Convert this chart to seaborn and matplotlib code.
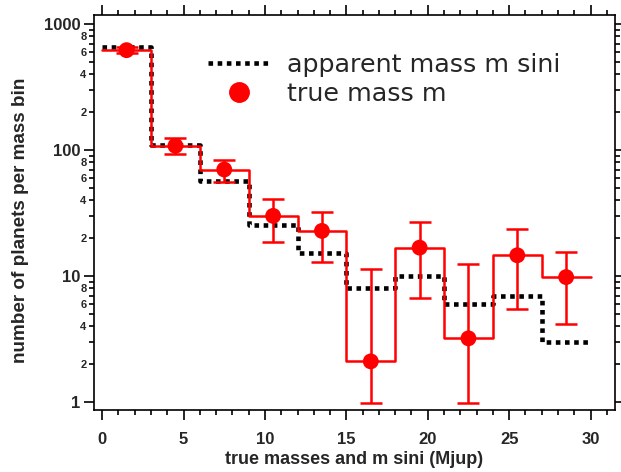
import numpy as np
import pandas as pd
import matplotlib
matplotlib.use("Agg")
import matplotlib.pyplot as plt
from matplotlib.lines import Line2D
from matplotlib.ticker import MultipleLocator, FixedLocator, FixedFormatter
import seaborn as sns

# mass bins (Mjup), 3 Mjup wide
bin_edges = [0, 3, 6, 9, 12, 15, 18, 21, 24, 27, 30]
bin_centers = [1.5, 4.5, 7.5, 10.5, 13.5, 16.5, 19.5, 22.5, 25.5, 28.5]

# apparent mass m sini histogram
msini_counts = [660, 110, 57, 25.4, 15.3, 8.1, 10, 6.0, 7.0, 3.0]
# true mass histogram with error bars
true_counts = [620, 108, 70, 30, 22.8, 2.1, 16.8, 3.2, 14.6, 9.8]
true_upper = [660, 124, 84, 40.8, 32.4, 11.3, 26.7, 12.4, 23.7, 15.6]
true_lower = [585, 92.5, 56, 18.5, 12.8, 0.98, 6.7, 0.98, 5.5, 4.16]

sns.set_style("ticks")
plt.rcParams["font.family"] = ["Liberation Sans", "DejaVu Sans"]

fig = plt.figure(figsize=(6.21, 4.72), dpi=100)
ax = fig.add_axes([0.1514, 0.1314, 0.8389, 0.8369])

# step lines need the last value repeated at the right edge
msini_y = list(msini_counts) + [msini_counts[-1]]
true_y = list(true_counts) + [true_counts[-1]]

df_msini = pd.DataFrame({"m": bin_edges, "n": msini_y})
df_true = pd.DataFrame({"m": bin_edges, "n": true_y})
df_pts = pd.DataFrame({"m": bin_centers, "n": true_counts})

sns.lineplot(data=df_msini, x="m", y="n", ax=ax, drawstyle="steps-post",
             color="black", lw=3.3, linestyle=(0, (1, 1)), zorder=2)
sns.lineplot(data=df_true, x="m", y="n", ax=ax, drawstyle="steps-post",
             color="#ff0000", lw=1.8, zorder=3)

yerr = [np.array(true_counts) - np.array(true_lower),
        np.array(true_upper) - np.array(true_counts)]
ax.errorbar(bin_centers, true_counts, yerr=yerr, fmt="none", ecolor="#ff0000",
            elinewidth=1.8, capsize=8, capthick=1.8, zorder=4)
sns.scatterplot(data=df_pts, x="m", y="n", ax=ax, color="#ff0000", s=130,
                edgecolor="none", zorder=5)

ax.set_yscale("log")
ax.set_xlim(-0.5, 31.5)
ax.set_ylim(0.864, 1180)

ax.xaxis.set_major_locator(MultipleLocator(5))
ax.xaxis.set_minor_locator(MultipleLocator(1))
ax.yaxis.set_major_locator(FixedLocator([1, 10, 100, 1000]))
ax.yaxis.set_major_formatter(FixedFormatter(["1", "10", "100", "1000"]))
minor_vals = []
minor_labels = []
for dec in [1, 10, 100]:
    for k in range(2, 10):
        minor_vals.append(k * dec)
        minor_labels.append(str(k) if k in (2, 4, 6, 8) else "")
ax.yaxis.set_minor_locator(FixedLocator(minor_vals))
ax.yaxis.set_minor_formatter(FixedFormatter(minor_labels))

ax.tick_params(which="both", direction="out", top=True, right=True,
               color="black", width=1.2)
ax.tick_params(which="major", length=7, pad=3)
ax.tick_params(which="minor", length=3.5, pad=2)
ax.tick_params(axis="x", which="major", labelsize=12, pad=9)
ax.tick_params(axis="y", which="major", labelsize=12)
ax.tick_params(axis="y", which="minor", labelsize=8)
for lab in ax.get_xticklabels() + ax.get_yticklabels() + ax.get_yticklabels(minor=True):
    lab.set_fontweight("bold")

for sp in ax.spines.values():
    sp.set_visible(True)
    sp.set_linewidth(1.2)
    sp.set_color("black")

ax.set_xlabel("true masses and m sini (Mjup)", fontsize=13, fontweight="bold", labelpad=3)
ax.set_ylabel("number of planets per mass bin", fontsize=13.6, fontweight="bold", labelpad=6)
ax.yaxis.set_label_coords(-0.125, 0.48)

handles = [
    Line2D([], [], color="black", lw=3.3, linestyle=(0, (1, 1))),
    Line2D([], [], color="#ff0000", marker="o", markersize=14, linestyle="none"),
]
ax.legend(handles, ["apparent mass m sini", "true mass m"], loc="upper left",
          bbox_to_anchor=(0.175, 0.962), frameon=False, handlelength=2.4,
          handletextpad=0.7, labelspacing=0.2,
          prop={"family": "DejaVu Sans", "size": 18.3})

fig.savefig("out.png", dpi=100)
